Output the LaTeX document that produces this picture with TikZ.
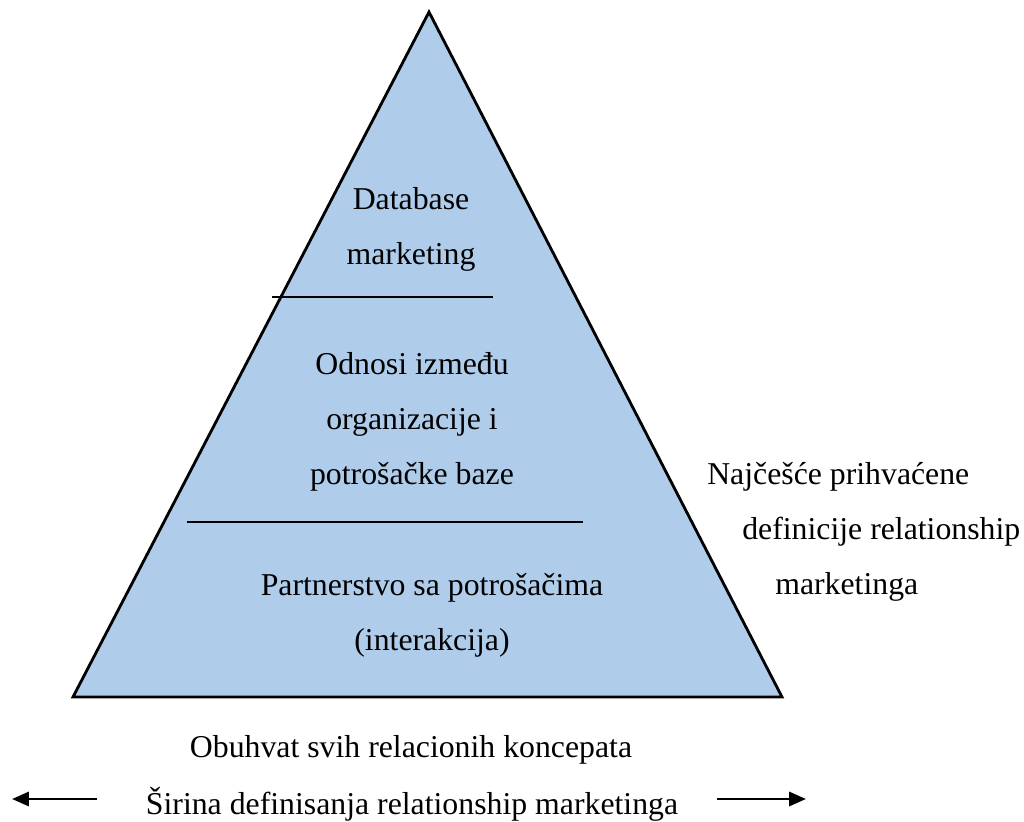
\documentclass[tikz,border=0pt]{standalone}
\usepackage{fontspec}
\setmainfont{Liberation Serif}
\usepackage{xcolor}
\usetikzlibrary{arrows.meta}

\definecolor{pyrblue}{HTML}{AFCDEB}

\begin{document}
\begin{tikzpicture}[x=0.025cm,y=-0.025cm]
\tikzstyle{every node}+=[inner sep=0pt]
\tikzstyle{txt}=[font={\fontsize{22.6}{39}\selectfont},align=center]
\tikzstyle{sidetxt}=[font={\fontsize{22.6}{39}\selectfont},anchor=west]
\tikzstyle{divider}=[black,line width=0.9pt]
\tikzstyle{wide}=[black,line width=2pt,-{Triangle[length=12pt,width=10pt]}]
\useasboundingbox (0,0) rectangle (1024,821);
% pyramid
\coordinate (apex) at (429,12);
\coordinate (bl) at (73,697);
\coordinate (br) at (782,697);
\filldraw [fill=pyrblue,draw=black,line width=2pt,line join=miter] (apex) -- (br) -- (bl) -- cycle;
% dividers
\coordinate (d1a) at (272,297);
\coordinate (d1b) at (493,297);
\coordinate (d2a) at (187,522);
\coordinate (d2b) at (583,522);
\draw [divider] (d1a) -- (d1b);
\draw [divider] (d2a) -- (d2b);
% levels
\node [txt] (dbm) at (411,229) {Database\\marketing};
\node [txt] (odnosi) at (412,422) {Odnosi između\\organizacije i\\potrošačke baze};
\node [txt] (partner) at (432,615) {Partnerstvo sa potrošačima\\(interakcija)};
% right side
\node [sidetxt] (def1) at (707,477) {Najčešće prihvaćene};
\node [sidetxt] (def2) at (742,532) {definicije relationship};
\node [sidetxt] (def3) at (775,587) {marketinga};
% bottom
\node [txt] (obuhvat) at (411,750) {Obuhvat svih relacionih koncepata};
\node [txt] (sirina) at (412,804) {Širina definisanja relationship marketinga};
\coordinate (la) at (97,799);
\coordinate (lb) at (12,799);
\coordinate (ra) at (717,799);
\coordinate (rb) at (806,799);
\draw [wide] (la) -- (lb);
\draw [wide] (ra) -- (rb);
\end{tikzpicture}
\end{document}
